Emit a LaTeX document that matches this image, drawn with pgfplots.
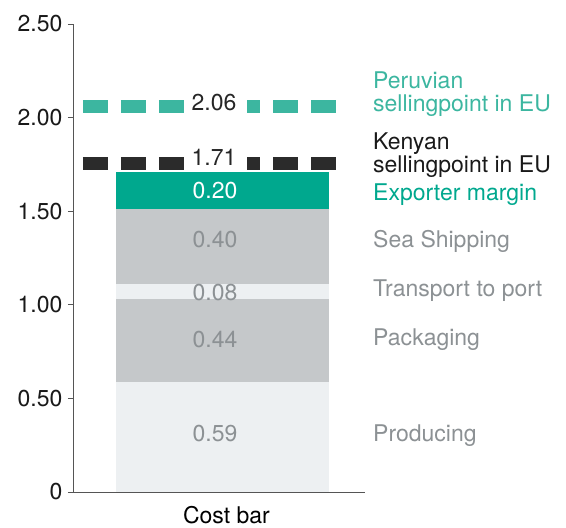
\documentclass[border=0pt]{standalone}
\usepackage{fontspec}
\setmainfont{TeX Gyre Heros}
\usepackage{pgfplots}
\pgfplotsset{compat=1.18}

\definecolor{tealbar}{HTML}{00A88E}
\definecolor{tealdash}{HTML}{3CB6A0}
\definecolor{lightseg}{HTML}{EDF0F2}
\definecolor{darkseg}{HTML}{C5C8CA}
\definecolor{labgray}{HTML}{8C9194}
\definecolor{dashblack}{HTML}{2B2B2B}
\definecolor{axgray}{HTML}{555555}

\begin{document}
\begin{tikzpicture}[
    lab/.style={font=\fontsize{23}{27}\selectfont, text height=16.5pt, text depth=0pt, inner ysep=0pt, inner xsep=0pt},
]
\pgfplotsset{
    base/.style={
        scale only axis, width=292pt, height=468pt,
        xmin=0, xmax=292, ymin=0, ymax=2.5,
        clip=false, at={(0,0)}, anchor=south west,
    },
}
% stacked cost bar
\begin{axis}[
    base,
    ybar stacked,
    bar width=213,
    axis x line=bottom, axis y line=left,
    axis line style={-, draw=axgray, line width=0.8pt},
    xtick=\empty,
    ytick={0,0.5,1,1.5,2,2.5},
    yticklabels={0,0.50,1.00,1.50,2.00,2.50},
    tick align=outside,
    major tick length=5pt,
    tick style={draw=axgray, line width=0.8pt},
    yticklabel style={font=\fontsize{23}{27}\selectfont, text=black!90, xshift=-2pt},
]
\addplot[fill=lightseg, draw=none] coordinates {(149.5,0.59)}; % Producing
\addplot[fill=darkseg, draw=none] coordinates {(149.5,0.44)};  % Packaging
\addplot[fill=lightseg, draw=none] coordinates {(149.5,0.08)}; % Transport to port
\addplot[fill=darkseg, draw=none] coordinates {(149.5,0.40)};  % Sea Shipping
\addplot[fill=tealbar, draw=none] coordinates {(149.5,0.20)};  % Exporter margin
\end{axis}

% selling points and labels
\begin{axis}[base, hide axis]
\addplot[tealdash, line width=13pt, dash pattern=on 25pt off 13pt] coordinates {(10,2.06) (274,2.06)};
\addplot[dashblack, line width=13pt, dash pattern=on 25pt off 13pt, yshift=8pt] coordinates {(10,1.71) (274,1.71)};

\node[fill=white, minimum width=62pt, minimum height=15pt, inner sep=0pt] at (axis cs:143,2.06) {};
\node[fill=white, minimum width=62pt, minimum height=15pt, inner sep=0pt] at (axis cs:143,1.71) [yshift=8pt] {};
\node[lab, text=black!85] at (axis cs:141,2.084) {2.06};
\node[lab, text=black!85] at (axis cs:141,1.79) {1.71};

\node[lab, text=white] at (axis cs:142,1.613) {0.20};
\node[lab, text=labgray] at (axis cs:142,1.351) {0.40};
\node[lab, text=labgray] at (axis cs:142,1.068) {0.08};
\node[lab, text=labgray] at (axis cs:142,0.817) {0.44};
\node[lab, text=labgray] at (axis cs:142,0.315) {0.59};
\node[lab, text=black] at (axis cs:153.5,0) [yshift=-23pt] {Cost bar};

\node[lab, text=tealdash, anchor=west] at (axis cs:300,2.201) {Peruvian};
\node[lab, text=tealdash, anchor=west] at (axis cs:300,2.078) {sellingpoint in EU};
\node[lab, text=black!90, anchor=west] at (axis cs:300,1.875) {Kenyan};
\node[lab, text=black!90, anchor=west] at (axis cs:300,1.752) {sellingpoint in EU};
\node[lab, text=tealbar, anchor=west] at (axis cs:300,1.603) {Exporter margin};
\node[lab, text=labgray, anchor=west] at (axis cs:300,1.351) {Sea Shipping};
\node[lab, text=labgray, anchor=west] at (axis cs:300,1.090) {Transport to port};
\node[lab, text=labgray, anchor=west] at (axis cs:300,0.828) {Packaging};
\node[lab, text=labgray, anchor=west] at (axis cs:300,0.315) {Producing};
\end{axis}

\pgfresetboundingbox
\path[use as bounding box] (-73pt,-36pt) rectangle (493pt,492pt);
\end{tikzpicture}
\end{document}
